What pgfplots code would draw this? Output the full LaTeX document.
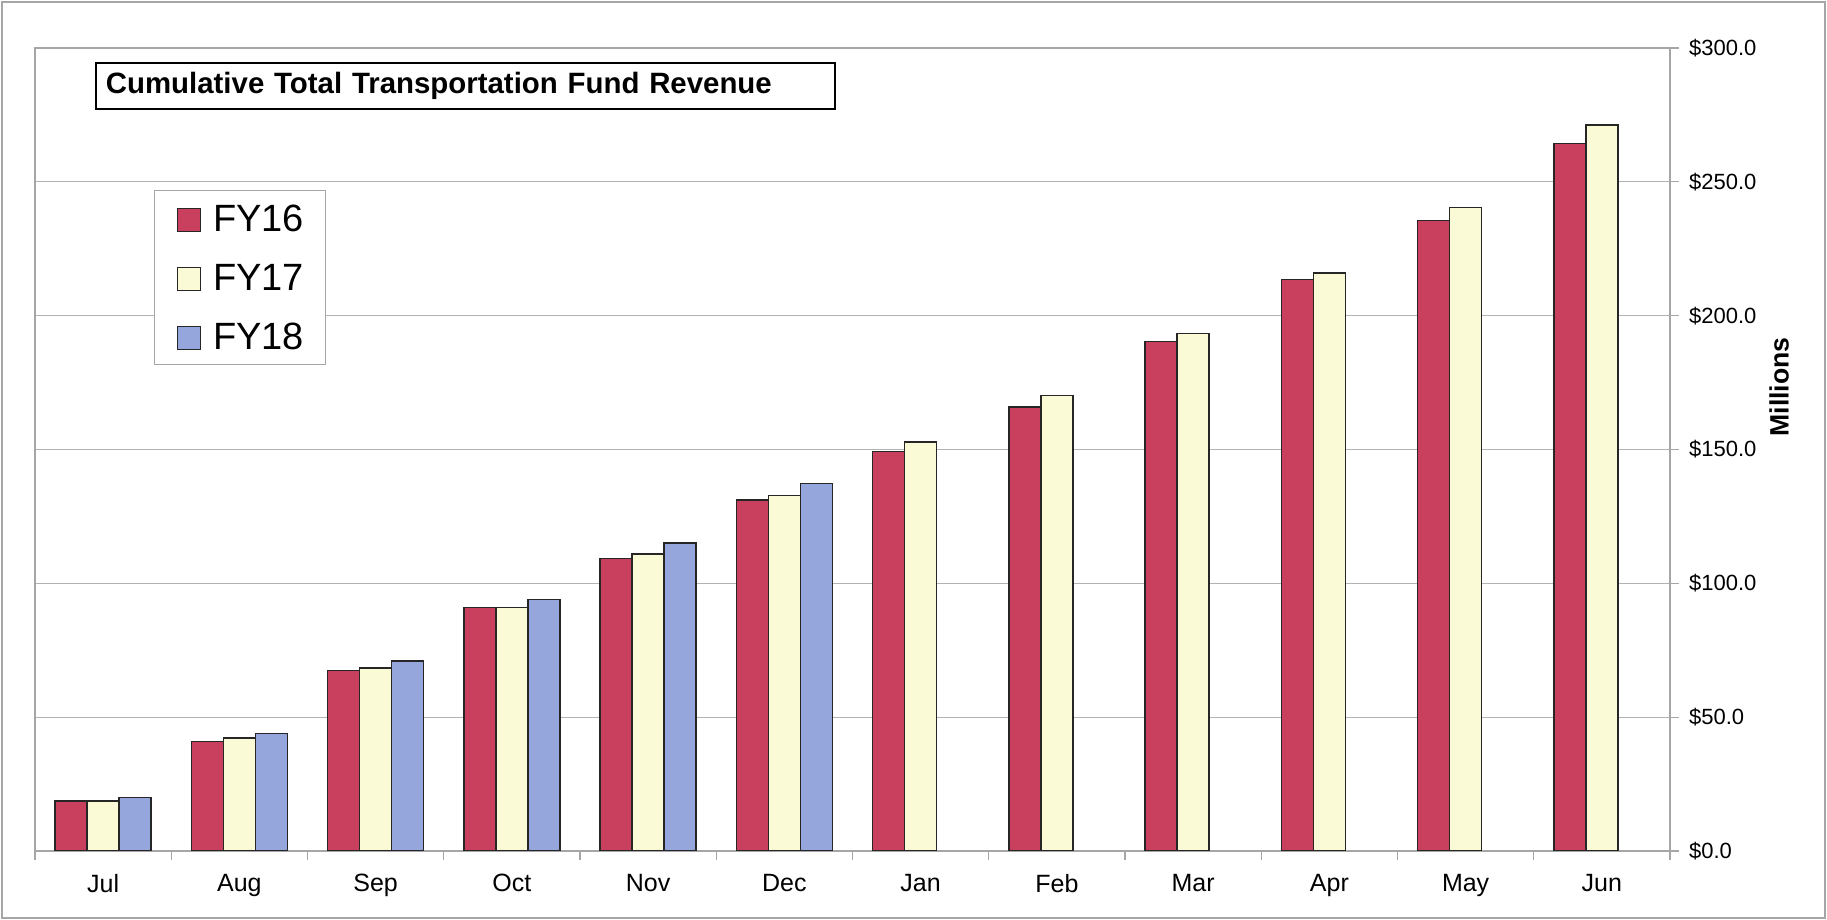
\documentclass[border=0pt]{standalone}
\usepackage{pgfplots}
\pgfplotsset{compat=1.18}
\usepackage{fontspec}
\setmainfont{Liberation Sans}
\definecolor{fysixteen}{RGB}{200,64,94}
\definecolor{fyseventeen}{RGB}{250,250,214}
\definecolor{fyeighteen}{RGB}{148,166,220}
\begin{document}
\begin{tikzpicture}
% page = 1827 x 920 px, 1 px = 0.5pt, axis box lower-left at (0,0)
\path[use as bounding box] (-17.5pt,-34.5pt) rectangle (896pt,425.5pt);
\draw[gray!70, line width=0.8pt] (-16.5pt,-33.5pt) rectangle (895pt,424.5pt);
\begin{axis}[
    at={(0,0)}, anchor=south west,
    width=817.5pt, height=401.5pt, scale only axis,
    ybar=0pt, bar width=16pt,
    xmin=-0.5, xmax=11.5, ymin=0, ymax=300,
    xtick={-0.5,0.5,...,11.5},
    xticklabels={Jul,Aug,Sep,Oct,Nov,Dec,Jan,Feb,Mar,Apr,May,Jun,{}},
    xticklabel style={xshift=34.06pt, yshift=-3.5pt, font=\fontsize{12.5}{14}\selectfont},
    ytick={0,50,...,300},
    yticklabel={\$\pgfmathprintnumber[fixed,fixed zerofill,precision=1]{\tick}},
    yticklabel style={font=\fontsize{11}{13}\selectfont, xshift=1.5pt},
    /pgf/number format/assume math mode=true,
    xtick pos=left, ytick pos=right, yticklabel pos=right,
    tick align=outside, major tick length=4.5pt,
    tick style={gray!70, line width=0.6pt},
    axis line style={gray!70, line width=0.6pt},
    ymajorgrids, grid style={gray!60, line width=0.6pt},
    ylabel={Millions},
    ylabel style={at={(rel axis cs:1.0667,0.578)}, anchor=center, font=\bfseries\fontsize{13.3}{15}\selectfont},
    legend style={at={(axis description cs:0.0728,0.823)}, anchor=north west,
        draw=gray!70, line width=0.5pt, inner xsep=11pt, inner ysep=7pt,
        font=\fontsize{19}{22}\selectfont, row sep=15.6pt,
        nodes={inner sep=0pt, text height=13.5pt, text depth=0pt, anchor=base west}},
    legend cell align=left,
    legend image code/.code={\draw[#1, line width=0.8pt] (0pt,0pt) rectangle (11.5pt,11.5pt);
        \path (17.5pt,0pt);},
]
\addplot[draw=black!85, line width=0.7pt, fill=fysixteen] coordinates {
    (0,18.7) (1,40.9) (2,67.5) (3,91.0) (4,109.3) (5,131.1)
    (6,149.3) (7,165.9) (8,190.3) (9,213.4) (10,235.6) (11,264.3)};
\addlegendentry{FY16}
\addplot[draw=black!85, line width=0.7pt, fill=fyseventeen] coordinates {
    (0,18.7) (1,42.2) (2,68.4) (3,91.0) (4,111.0) (5,132.8)
    (6,152.8) (7,170.2) (8,193.3) (9,216.0) (10,240.3) (11,271.3)};
\addlegendentry{FY17}
\addplot[draw=black!85, line width=0.7pt, fill=fyeighteen] coordinates {
    (0,20.0) (1,44.0) (2,71.0) (3,94.0) (4,115.0) (5,137.2)};
\addlegendentry{FY18}
% title box
\node[draw=black, line width=1pt, anchor=north west, align=left,
      text width=360pt, minimum height=23pt, inner xsep=4.7pt,
      font=\bfseries\fontsize{14.7}{17}\selectfont, fill=white]
    at (axis description cs:0.037,0.9826) {Cumulative Total Transportation Fund Revenue};
\end{axis}
\end{tikzpicture}
\end{document}
